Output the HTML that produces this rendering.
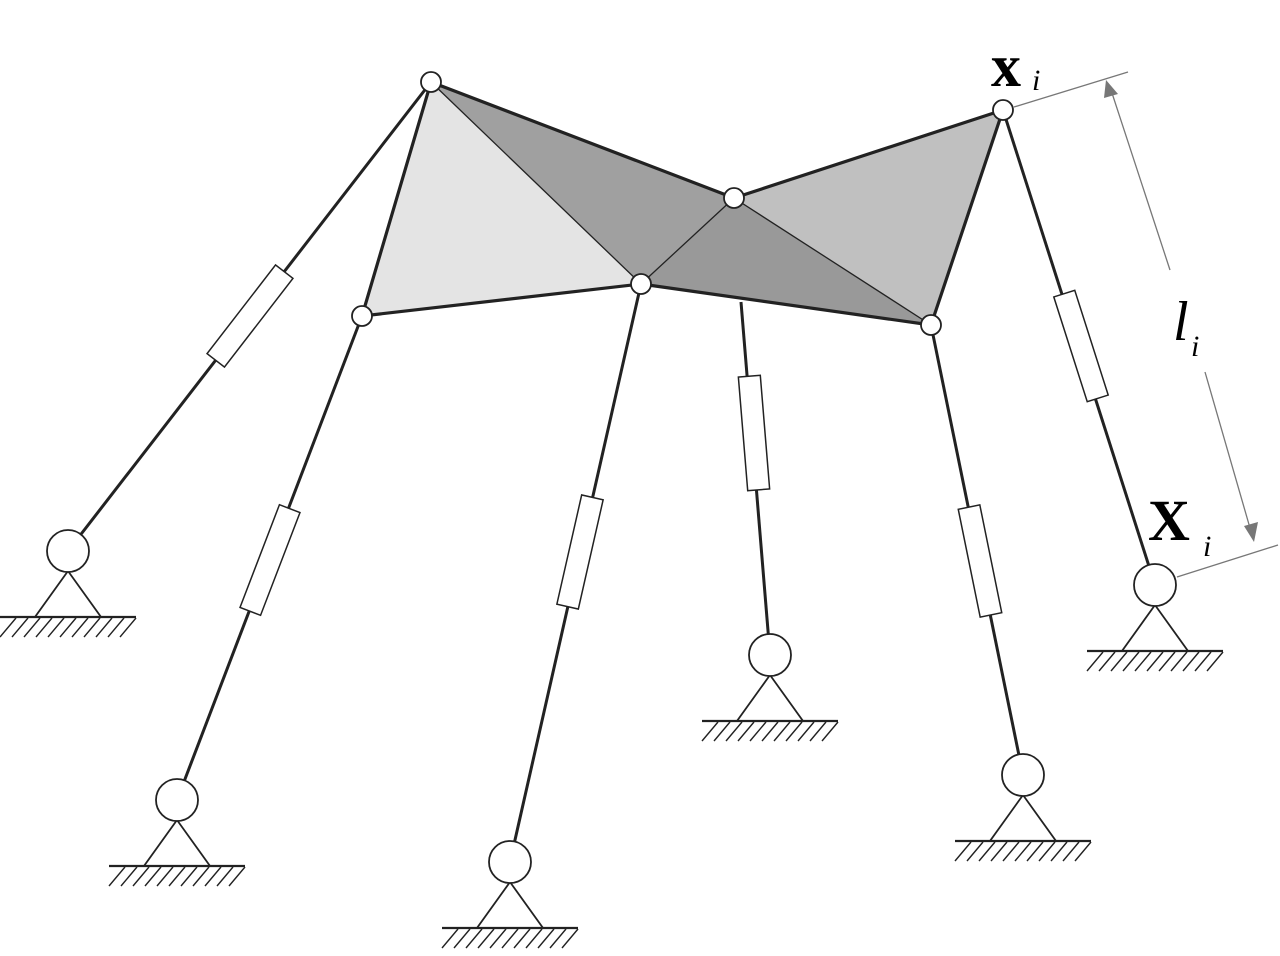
<!DOCTYPE html>
<html><head><meta charset="utf-8"><style>html,body{margin:0;padding:0;background:#fff}svg{display:block}</style></head>
<body>
<svg width="1280" height="956" viewBox="0 0 1280 956" xmlns="http://www.w3.org/2000/svg">
<defs>
<g id="gnd">
<polygon points="0,0 -33,46 33,46" fill="none" stroke="#222" stroke-width="1.8"/>
<line x1="-68" y1="46" x2="68" y2="46" stroke="#222" stroke-width="2.2"/>
<g stroke="#222" stroke-width="1.4">
<line x1="-52" y1="47" x2="-68" y2="66"/><line x1="-40" y1="47" x2="-56" y2="66"/><line x1="-28" y1="47" x2="-44" y2="66"/><line x1="-16" y1="47" x2="-32" y2="66"/><line x1="-4" y1="47" x2="-20" y2="66"/><line x1="8" y1="47" x2="-8" y2="66"/><line x1="20" y1="47" x2="4" y2="66"/><line x1="32" y1="47" x2="16" y2="66"/><line x1="44" y1="47" x2="28" y2="66"/><line x1="56" y1="47" x2="40" y2="66"/><line x1="68" y1="47" x2="52" y2="66"/>
</g>
</g>
</defs>
<polygon points="431,82 641,284 362,316" fill="#e4e4e4"/>
<polygon points="431,82 734,198 641,284" fill="#a0a0a0"/>
<polygon points="641,284 734,198 931,325" fill="#999"/>
<polygon points="734,198 1003,110 931,325" fill="#c0c0c0"/>
<g stroke="#222" stroke-width="1.3"><line x1="431" y1="82" x2="641" y2="284"/><line x1="734" y1="198" x2="641" y2="284"/><line x1="734" y1="198" x2="931" y2="325"/></g>
<polygon points="431,82 734,198 1003,110 931,325 641,284 362,316" fill="none" stroke="#222" stroke-width="3.2" stroke-linejoin="round"/>
<g stroke="#222" stroke-width="3">
<line x1="431" y1="82" x2="68" y2="551"/>
<line x1="362" y1="316" x2="177" y2="800"/>
<line x1="641" y1="284" x2="510" y2="862"/>
<line x1="741" y1="302" x2="770" y2="655"/>
<line x1="931" y1="325" x2="1023" y2="775"/>
<line x1="1003" y1="110" x2="1155" y2="585"/>
</g>
<g fill="#fff" stroke="#222" stroke-width="1.5">
<rect x="-11" y="-56" width="22" height="112" transform="translate(250,316) rotate(37.7)"/>
<rect x="-11" y="-55" width="22" height="110" transform="translate(270,560) rotate(21)"/>
<rect x="-11" y="-56" width="22" height="112" transform="translate(580,552) rotate(12.8)"/>
<rect x="-11" y="-57" width="22" height="114" transform="translate(754,433) rotate(-4.7)"/>
<rect x="-11" y="-55" width="22" height="110" transform="translate(980,561) rotate(-11.5)"/>
<rect x="-11" y="-55" width="22" height="110" transform="translate(1081,346) rotate(-17.7)"/>
</g>
<use href="#gnd" x="68" y="571"/>
<use href="#gnd" x="177" y="820"/>
<use href="#gnd" x="510" y="882"/>
<use href="#gnd" x="770" y="675"/>
<use href="#gnd" x="1023" y="795"/>
<use href="#gnd" x="1155" y="605"/>
<g fill="#fff" stroke="#222" stroke-width="1.8">
<circle cx="68" cy="551" r="21"/><circle cx="177" cy="800" r="21"/><circle cx="510" cy="862" r="21"/><circle cx="770" cy="655" r="21"/><circle cx="1023" cy="775" r="21"/><circle cx="1155" cy="585" r="21"/>
</g>
<g fill="#fff" stroke="#222" stroke-width="1.8">
<circle cx="431" cy="82" r="10"/><circle cx="1003" cy="110" r="10"/><circle cx="734" cy="198" r="10"/><circle cx="641" cy="284" r="10"/><circle cx="362" cy="316" r="10"/><circle cx="931" cy="325" r="10"/>
</g>
<g stroke="#777" stroke-width="1.3" fill="none">
<line x1="1014" y1="107" x2="1128" y2="72"/>
<line x1="1177" y1="577" x2="1278" y2="545"/>
<line x1="1111" y1="90" x2="1170" y2="270"/>
<line x1="1205" y1="372" x2="1250" y2="528"/>
</g>
<polygon points="1106,80 1104,98 1118,94" fill="#777"/>
<polygon points="1254,542 1244,526 1258,522" fill="#777"/>
<text x="991" y="86" font-family="Liberation Serif, serif" font-size="60" font-weight="bold">x</text>
<text x="1032" y="90" font-family="Liberation Serif, serif" font-size="30" font-style="italic">i</text>
<text x="1148" y="540" font-family="Liberation Serif, serif" font-size="58" font-weight="bold">X</text>
<text x="1203" y="556" font-family="Liberation Serif, serif" font-size="30" font-style="italic">i</text>
<text x="1173" y="340" font-family="Liberation Serif, serif" font-size="56" font-style="italic">l</text>
<text x="1191" y="356" font-family="Liberation Serif, serif" font-size="30" font-style="italic">i</text>
</svg>
</body></html>
